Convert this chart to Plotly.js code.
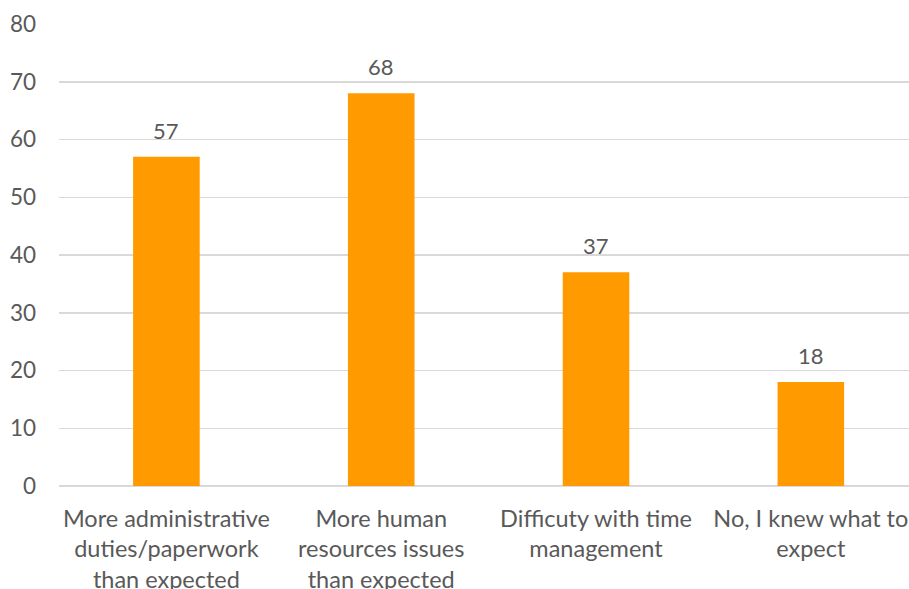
<!DOCTYPE html>
<html>
<head>
<meta charset="utf-8">
<script src="https://cdn.plot.ly/plotly-3.0.1.min.js"></script>
<style>
  html, body { margin: 0; padding: 0; background: #ffffff; }
  #chart { width: 909px; height: 589px; }
</style>
</head>
<body>
<div id="chart"></div>
<script>
// Survey responses: how the role differed from expectations
const categories = [
  "More administrative<br>duties/paperwork<br>than expected",
  "More human<br>resources issues<br>than expected",
  "Difficuty with time<br>management",
  "No, I knew what to<br>expect"
];
const responses = [57, 68, 37, 18];
const yTicks = [0, 10, 20, 30, 40, 50, 60, 70, 80];

const textColor = "#595959";
const fontFamily = "Lato, 'Open Sans', sans-serif";

const trace = {
  type: "bar",
  x: categories,
  y: responses,
  marker: { color: "#FF9A00" },
  width: 0.31,
  hoverinfo: "skip"
};

// value labels sit just above each bar
const labels = categories.map((c, i) => ({
  x: c,
  y: responses[i],
  text: String(responses[i]),
  showarrow: false,
  xanchor: "center",
  yanchor: "bottom",
  yshift: 11,
  font: { family: fontFamily, size: 22, color: textColor }
}));

const layout = {
  width: 909,
  height: 589,
  margin: { l: 59, r: 0, t: 24, b: 103 },
  paper_bgcolor: "#ffffff",
  plot_bgcolor: "#ffffff",
  showlegend: false,
  font: { family: fontFamily, size: 22, color: textColor },
  xaxis: {
    type: "category",
    range: [-0.5, 3.457],
    showgrid: false,
    zeroline: false,
    showline: false,
    ticks: "",
    ticklabelstandoff: 16,
    tickfont: { family: fontFamily, size: 23.5, color: textColor },
    fixedrange: true
  },
  yaxis: {
    range: [0, 80],
    tickvals: yTicks,
    ticktext: yTicks.map(String),
    showgrid: true,
    gridcolor: "#d9d9d9",
    gridwidth: 1.5,
    zeroline: true,
    zerolinecolor: "#d9d9d9",
    zerolinewidth: 1.5,
    showline: false,
    ticks: "",
    ticklabelstandoff: 22,
    tickfont: { family: fontFamily, size: 22.5, color: textColor },
    fixedrange: true
  },
  annotations: labels
};

Plotly.newPlot("chart", [trace], layout, { displayModeBar: false, staticPlot: true });
</script>
</body>
</html>
